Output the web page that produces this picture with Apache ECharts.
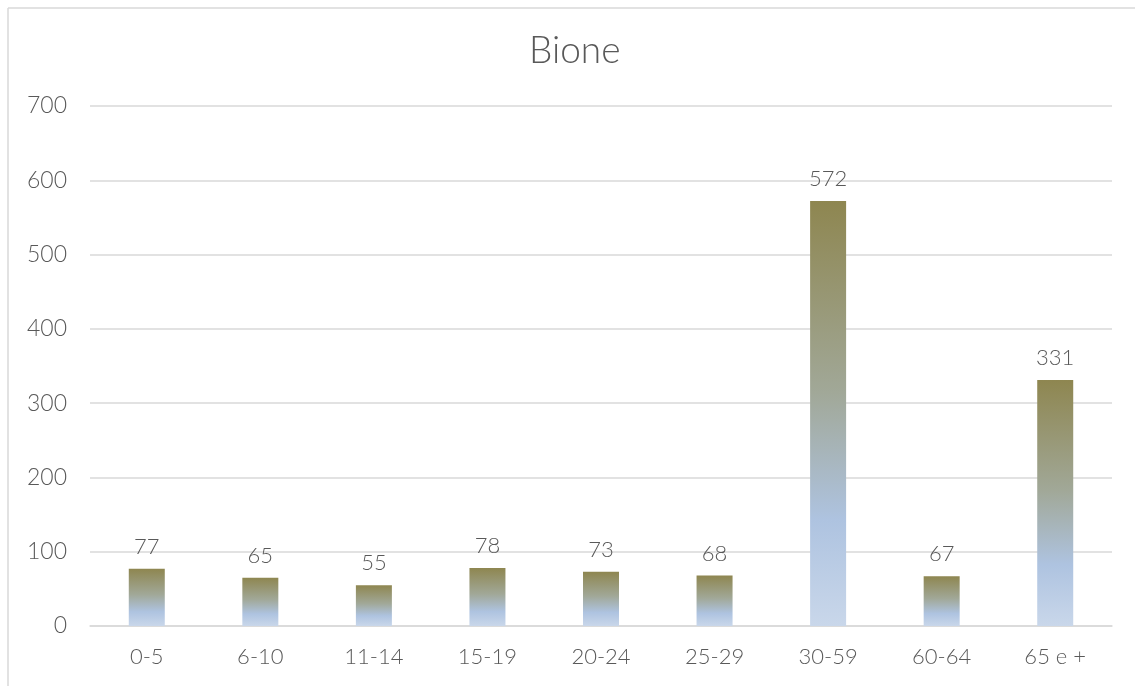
<!DOCTYPE html>
<html>
<head>
<meta charset="utf-8">
<script src="https://cdn.jsdelivr.net/npm/echarts@6/dist/echarts.min.js"></script>
<style>
html,body{margin:0;padding:0;background:#fff;}
#c{width:1135px;height:686px;}
</style>
</head>
<body>
<div id="c"></div>
<script>
const titleText = 'Bione';
const categories = ['0-5','6-10','11-14','15-19','20-24','25-29','30-59','60-64','65 e +'];
const values = [77,65,55,78,73,68,572,67,331];
const yTicks = {min:0, max:700, interval:100};

const chart = echarts.init(document.getElementById('c'), null, {renderer:'canvas'});
const font = 'Lato, "Open Sans", sans-serif';
const txt = '#595959';
chart.setOption({
  animation:false,
  backgroundColor:'#ffffff',
  title:{text:titleText,left:524,top:28,
    textStyle:{fontFamily:font,fontSize:37,fontWeight:300,color:txt}},
  grid:{left:90,right:23,top:106,bottom:60},
  xAxis:{type:'category',data:categories,
    axisLine:{lineStyle:{color:'#d9d9d9',width:1.5}},
    axisTick:{show:false},
    axisLabel:{fontFamily:font,fontSize:22,fontWeight:300,color:txt,margin:20}},
  yAxis:{type:'value',min:yTicks.min,max:yTicks.max,interval:yTicks.interval,
    axisLine:{show:false},axisTick:{show:false},
    splitLine:{lineStyle:{color:'#d9d9d9',width:1.5}},
    axisLabel:{fontFamily:font,fontSize:23,fontWeight:300,color:txt,margin:23}},
  graphic:[
    {type:'line',shape:{x1:8,y1:8,x2:1135,y2:8},style:{stroke:'#d9d9d9',lineWidth:1.5},silent:true},
    {type:'line',shape:{x1:8,y1:8,x2:8,y2:686},style:{stroke:'#d9d9d9',lineWidth:1.5},silent:true}
  ],
  series:[{type:'bar',data:values,barWidth:36,
    itemStyle:{color:new echarts.graphic.LinearGradient(0,0,0,1,[
      {offset:0,color:'#8E8650'},
      {offset:0.45,color:'#A1A898'},
      {offset:0.75,color:'#AEC3E0'},
      {offset:1,color:'#C9D7EA'}])},
    label:{show:true,position:'top',distance:11,fontFamily:font,fontSize:22,fontWeight:300,color:txt}
  }]
});
</script>
</body>
</html>
